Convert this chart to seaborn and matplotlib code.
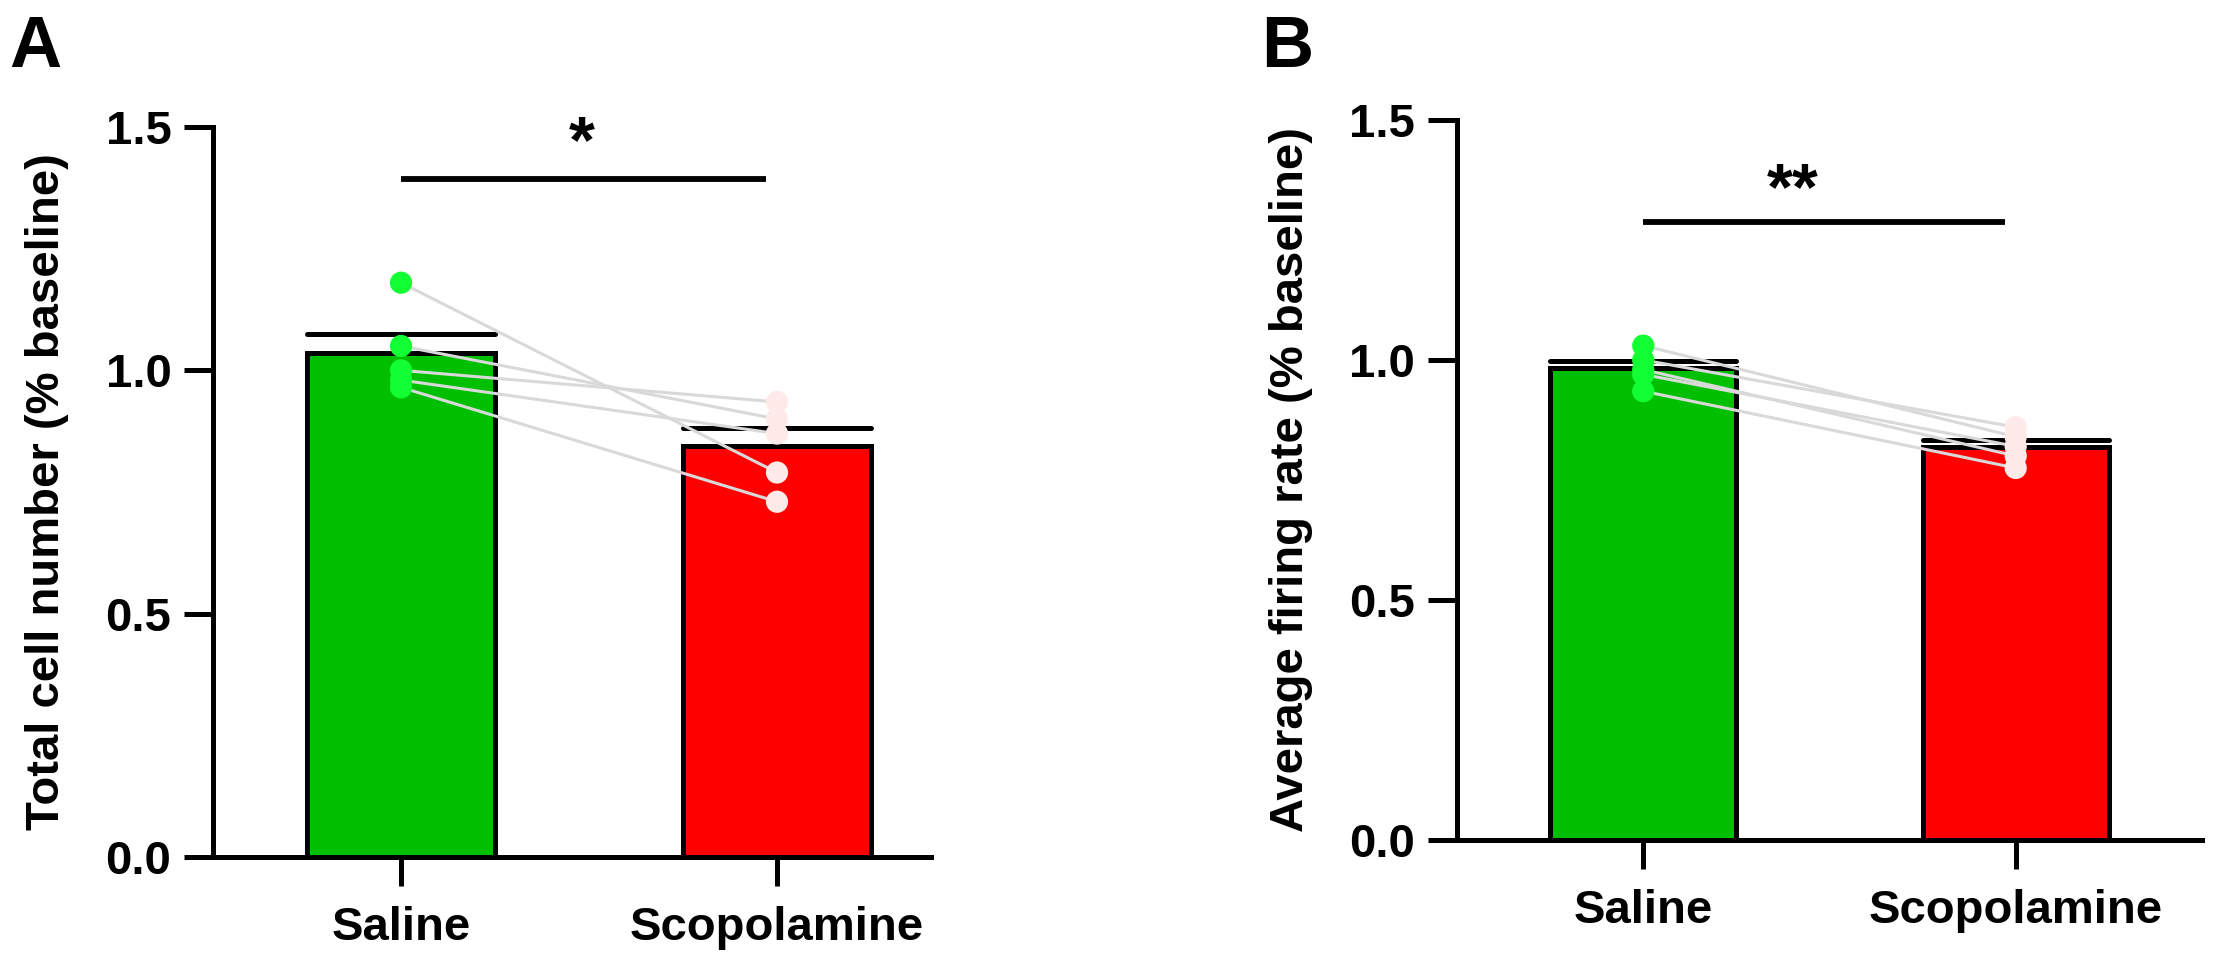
import numpy as np
import pandas as pd
import matplotlib
matplotlib.use("Agg")
import matplotlib.pyplot as plt
import seaborn as sns

groups = ["Saline", "Scopolamine"]

# panel A: total cell number, paired per animal
cells_saline = [1.18, 1.05, 1.00, 0.98, 0.965]
cells_scopolamine = [0.79, 0.90, 0.935, 0.87, 0.73]

# panel B: average firing rate, paired per animal
rate_saline = [1.03, 1.00, 0.98, 0.97, 0.935]
rate_scopolamine = [0.84, 0.86, 0.80, 0.82, 0.775]

ylabels = ["Total cell number (% baseline)", "Average firing rate (% baseline)"]
stars = ["*", "**"]
y_ticks = [0.0, 0.5, 1.0, 1.5]

bar_colors = {"Saline": "#00BF00", "Scopolamine": "#FF0000"}
dot_colors = {"Saline": "#11FF33", "Scopolamine": "#FFEAEA"}

sns.set_style("ticks")
plt.rcParams["font.family"] = ["Liberation Sans", "DejaVu Sans"]
plt.rcParams["font.weight"] = "bold"
plt.rcParams["axes.labelweight"] = "bold"
for key in ["text.color", "axes.labelcolor", "xtick.color", "ytick.color", "axes.edgecolor"]:
    plt.rcParams[key] = "black"


def long_table(before, after):
    n = len(before)
    return pd.DataFrame({
        "animal": list(range(n)) * 2,
        "group": [groups[0]] * n + [groups[1]] * n,
        "pos": [0] * n + [1] * n,
        "value": list(before) + list(after),
    })


def draw_panel(ax, df, ylabel, star, star_x, star_y, line_y, xmax):
    sns.barplot(data=df, x="group", y="value", hue="group", palette=bar_colors,
                order=groups, width=0.5, saturation=1, errorbar="se", capsize=0.5,
                err_kws={"color": "black", "linewidth": 3.6, "zorder": 0.5},
                edgecolor="black", linewidth=3.6, legend=False, ax=ax)
    sns.lineplot(data=df, x="pos", y="value", units="animal", estimator=None,
                 color="#D9D9D9", linewidth=2.2, zorder=3, legend=False, ax=ax)
    sns.stripplot(data=df, x="group", y="value", hue="group", palette=dot_colors,
                  order=groups, jitter=False, size=16, linewidth=0,
                  zorder=4, legend=False, ax=ax)

    ax.set_xlim(-0.5, xmax)
    ax.set_ylim(0, 1.5)
    ax.set_yticks(y_ticks)
    ax.set_yticklabels([f"{t:.1f}" for t in y_ticks])
    ax.set_xlabel("")
    ax.set_ylabel(ylabel, fontsize=34, labelpad=26)
    ax.tick_params(axis="both", labelsize=34, length=21, width=3.6)
    ax.tick_params(axis="y", pad=9)
    ax.tick_params(axis="x", pad=14)
    for lab in ax.get_xticklabels() + ax.get_yticklabels():
        lab.set_fontweight("bold")
    for side in ["left", "bottom"]:
        ax.spines[side].set_linewidth(3.6)
    sns.despine(ax=ax)

    # significance bar
    ax.plot([0, 0.97], [line_y, line_y], color="black", linewidth=4.2,
            solid_capstyle="butt", clip_on=False)
    ax.text(star_x, star_y, star, ha="center", va="bottom", fontsize=48,
            fontweight="bold", clip_on=False)


fig = plt.figure(figsize=(22.17, 9.57), dpi=100)
ax_a = fig.add_axes([0.0961, 0.1045, 0.3239, 0.7628])
ax_b = fig.add_axes([0.6572, 0.1223, 0.3360, 0.7523])

draw_panel(ax_a, long_table(cells_saline, cells_scopolamine), ylabels[0], stars[0],
           0.48, 1.40, 1.394, 1.41)
draw_panel(ax_b, long_table(rate_saline, rate_scopolamine), ylabels[1], stars[1],
           0.40, 1.285, 1.2875, 1.5)

fig.text(0.004, 0.985, "A", fontsize=52, fontweight="bold", va="top", ha="left")
fig.text(0.569, 0.985, "B", fontsize=52, fontweight="bold", va="top", ha="left")

fig.savefig("out.png", dpi=100)
